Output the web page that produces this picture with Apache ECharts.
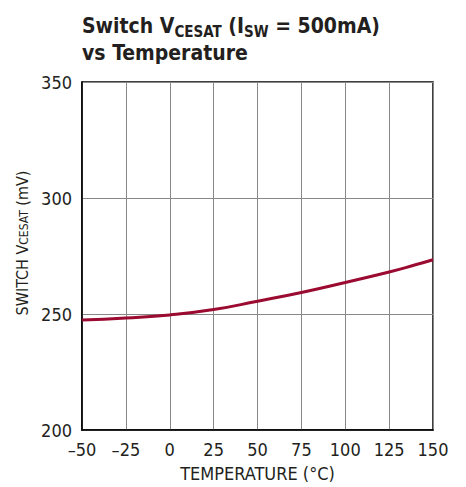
<!DOCTYPE html>
<html>
<head>
<meta charset="utf-8">
<script src="https://cdn.jsdelivr.net/npm/echarts@6/dist/echarts.min.js"></script>
<style>
  html, body { margin: 0; padding: 0; background: #fff; }
  #chart { width: 466px; height: 487px; }
</style>
</head>
<body>
<div id="chart"></div>
<script>
// temperature (°C) and switch VCESAT (mV)
const temps = [-50, -25, 0, 25, 50, 75, 100, 125, 140, 150]
const vcesat = [247.4, 248.3, 249.6, 251.9, 255.5, 259.3, 263.6, 268.1, 271.2, 273.4]
const xTicks = [-50, -25, 0, 25, 50, 75, 100, 125, 150]
const yTicks = [200, 250, 300, 350]

const FONT = '"Liberation Sans Narrow", "DejaVu Sans Condensed", "Roboto", sans-serif'
const chart = echarts.init(document.getElementById('chart'), null, { renderer: 'svg' })

const option = {
  animation: false,
  title: {
    left: 77,
    top: 7,
    text: 'Switch V{sub|CESAT} (I{sub|SW} = 500mA)\nvs Temperature',
    textStyle: {
      fontFamily: FONT,
      fontWeight: 'bold',
      fontSize: 21,
      lineHeight: 27,
      color: '#231f20',
      rich: {
        sub: {
          fontFamily: FONT,
          fontWeight: 'bold',
          fontSize: 15,
          color: '#231f20',
          verticalAlign: 'bottom',
          padding: [5, 0, 0, 0]
        }
      }
    }
  },
  grid: {
    left: 82,
    right: 33,
    top: 82,
    bottom: 53,
    show: true,
    borderColor: '#000',
    borderWidth: 1.5
  },
  xAxis: {
    type: 'value',
    min: xTicks[0],
    max: xTicks[xTicks.length - 1],
    interval: 25,
    name: 'TEMPERATURE (°C)',
    nameLocation: 'middle',
    nameGap: 34,
    nameTextStyle: { fontFamily: FONT, fontSize: 18, color: '#231f20' },
    axisLine: { show: true, onZero: false, lineStyle: { color: '#000', width: 1.5 } },
    axisTick: { show: false },
    splitLine: { show: true, lineStyle: { color: '#888', width: 1 } },
    axisLabel: {
      fontFamily: FONT,
      fontSize: 18,
      color: '#231f20',
      margin: 10,
      formatter: v => (v < 0 ? '\u2013' + Math.abs(v) : String(v))
    }
  },
  yAxis: {
    type: 'value',
    min: yTicks[0],
    max: yTicks[yTicks.length - 1],
    interval: 50,
    name: 'SWITCH V{sub|CESAT} (mV)',
    nameLocation: 'middle',
    nameRotate: 90,
    nameGap: 45,
    nameTextStyle: {
      fontFamily: FONT,
      fontSize: 16,
      color: '#231f20',
      padding: [0, 0, 0, 26],
      rich: {
        sub: {
          fontFamily: FONT,
          fontSize: 12,
          color: '#231f20',
          verticalAlign: 'bottom',
          padding: [4, 0, 0, 0]
        }
      }
    },
    axisLine: { show: true, onZero: false, lineStyle: { color: '#000', width: 1.5 } },
    axisTick: { show: false },
    splitLine: { show: true, lineStyle: { color: '#888', width: 1 } },
    axisLabel: {
      fontFamily: FONT,
      fontSize: 18,
      color: '#231f20',
      margin: 10
    }
  },
  series: [{
    type: 'line',
    data: temps.map((t, i) => [t, vcesat[i]]),
    smooth: true,
    showSymbol: false,
    lineStyle: { color: '#9b0a30', width: 3 }
  }]
}

chart.setOption(option)
</script>
</body>
</html>
